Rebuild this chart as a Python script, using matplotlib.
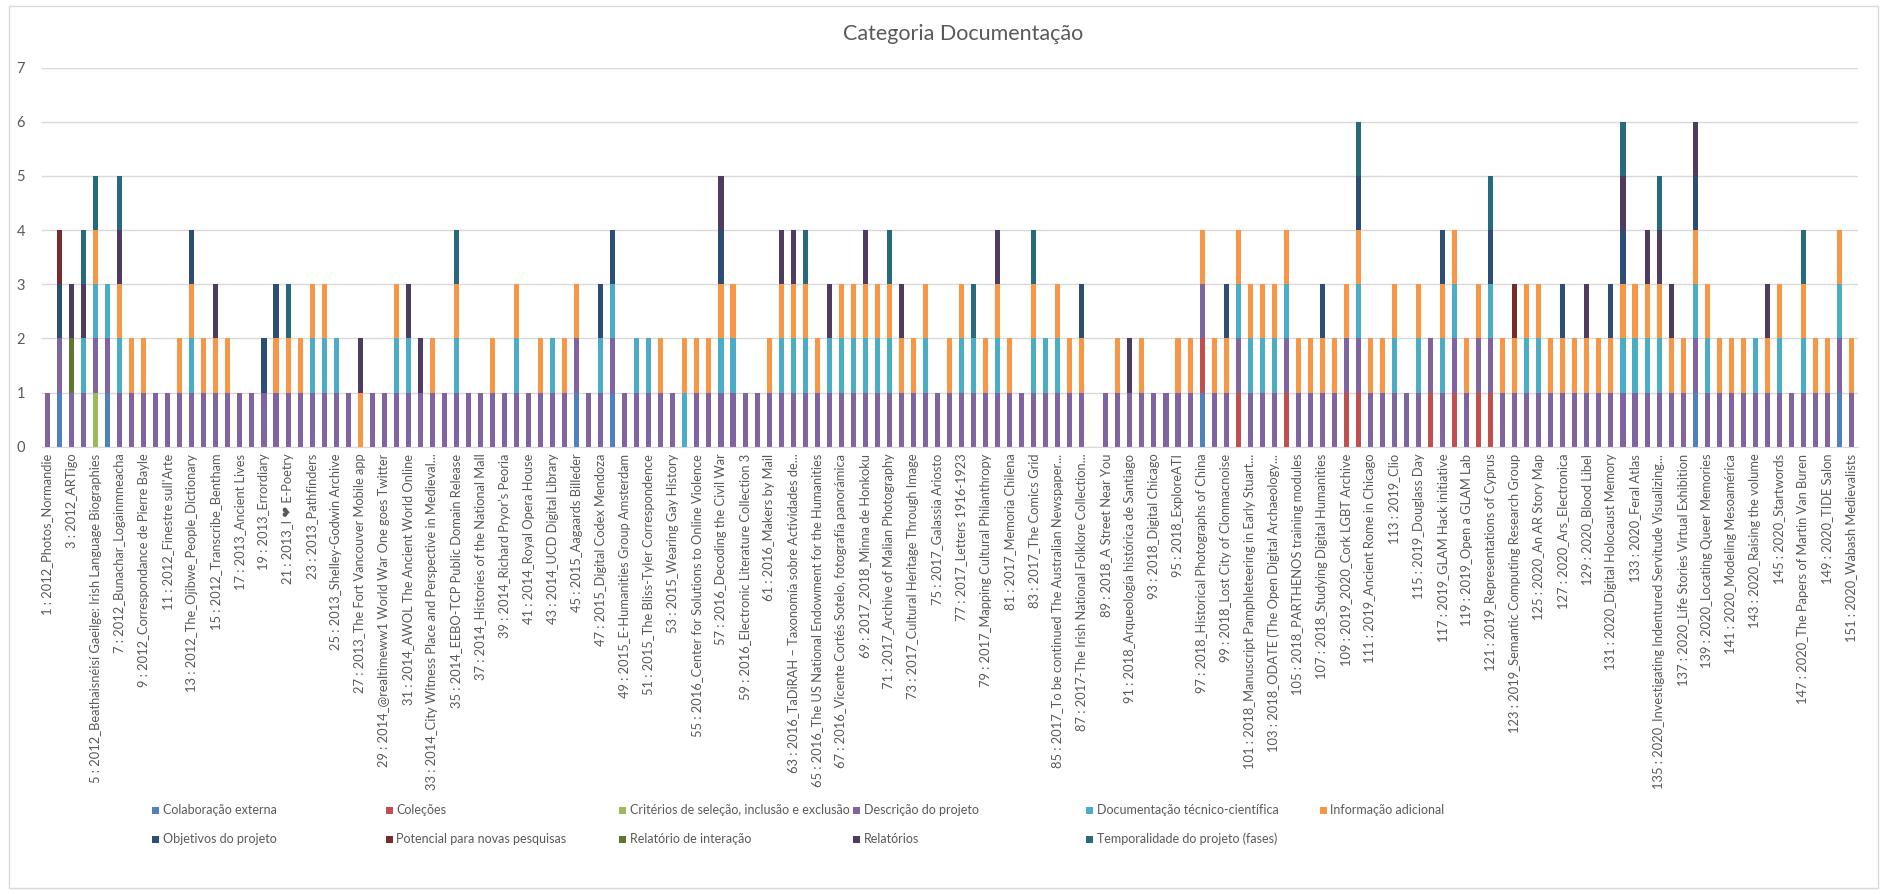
import matplotlib.pyplot as plt
from matplotlib.patches import Rectangle

# Projetos (eixo x): 151 projetos, só os ímpares recebem rótulo
n_projetos = 151

rotulos_impares = [
    "1 : 2012_Photos_Normandie",
    "3 : 2012_ARTigo",
    "5 : 2012_Beathaisnéisí Gaeilge: Irish Language Biographies",
    "7 : 2012_Bunachar_Logainmneacha",
    "9 : 2012_Correspondance de Pierre Bayle",
    "11 : 2012_Finestre sull'Arte",
    "13 : 2012_The_Ojibwe_People_Dictionary",
    "15 : 2012_Transcribe_Bentham",
    "17 : 2013_Ancient Lives",
    "19 : 2013_Errordiary",
    "21 : 2013_I ❤ E-Poetry",
    "23 : 2013_Pathfinders",
    "25 : 2013_Shelley-Godwin Archive",
    "27 : 2013_The Fort Vancouver Mobile app",
    "29 : 2014_@realtimeww1 World War One goes Twitter",
    "31 : 2014_AWOL The Ancient World Online",
    "33 : 2014_City Witness Place and Perspective in Medieval...",
    "35 : 2014_EEBO-TCP Public Domain Release",
    "37 : 2014_Histories of the National Mall",
    "39 : 2014_Richard Pryor’s Peoria",
    "41 : 2014_Royal Opera House",
    "43 : 2014_UCD Digital Library",
    "45 : 2015_Aagaards Billeder",
    "47 : 2015_Digital Codex Mendoza",
    "49 : 2015_E-Humanities Group Amsterdam",
    "51 : 2015_The Bliss-Tyler Correspondence",
    "53 : 2015_Wearing Gay History",
    "55 : 2016_Center for Solutions to Online Violence",
    "57 : 2016_Decoding the Civil War",
    "59 : 2016_Electronic Literature Collection 3",
    "61 : 2016_Makers by Mail",
    "63 : 2016_TaDiRAH – Taxonomía sobre Actividades de...",
    "65 : 2016_The US National Endowment for the Humanities",
    "67 : 2016_Vicente Cortés Sotelo, fotografía panorámica",
    "69 : 2017_2018_Minna de Honkoku",
    "71 : 2017_Archive of Malian Photography",
    "73 : 2017_Cultural Heritage Through Image",
    "75 : 2017_Galassia Ariosto",
    "77 : 2017_Letters 1916-1923",
    "79 : 2017_Mapping Cultural Philanthropy",
    "81 : 2017_Memoria Chilena",
    "83 : 2017_The Comics Grid",
    "85 : 2017_To be continued The Australian Newspaper...",
    "87 : 2017-The Irish National Folklore Collection...",
    "89 : 2018_A Street Near You",
    "91 : 2018_Arqueología histórica de Santiago",
    "93 : 2018_Digital Chicago",
    "95 : 2018_ExploreATI",
    "97 : 2018_Historical Photographs of China",
    "99 : 2018_Lost City of Clonmacnoise",
    "101 : 2018_Manuscript Pamphleteering in Early Stuart...",
    "103 : 2018_ODATE (The Open Digital Archaeology...",
    "105 : 2018_PARTHENOS training modules",
    "107 : 2018_Studying Digital Humanities",
    "109 : 2019_2020_Cork LGBT Archive",
    "111 : 2019_Ancient Rome in Chicago",
    "113 : 2019_Clio",
    "115 : 2019_Douglass Day",
    "117 : 2019_GLAM Hack initiative",
    "119 : 2019_Open a GLAM Lab",
    "121 : 2019_Representations of Cyprus",
    "123 : 2019_Semantic Computing Research Group",
    "125 : 2020_An AR Story Map",
    "127 : 2020_Ars_Electronica",
    "129 : 2020_Blood Libel",
    "131 : 2020_Digital Holocaust Memory",
    "133 : 2020_Feral Atlas",
    "135 : 2020_Investigating Indentured Servitude Visualizing...",
    "137 : 2020_Life Stories Virtual Exhibition",
    "139 : 2020_Locating Queer Memories",
    "141 : 2020_Modeling Mesoamérica",
    "143 : 2020_Raising the volume",
    "145 : 2020_Startwords",
    "147 : 2020_The Papers of Martin Van Buren",
    "149 : 2020_TIDE Salon",
    "151 : 2020_Wabash Medievalists",
]

# Cada categoria conta 1 nos projetos listados (número do projeto)
colaboracao_externa = [2, 6, 45, 48, 97, 138, 150]
colecoes = [97, 100, 104, 109, 110, 116, 118, 120, 121]
criterios = [5]
# descrição do projeto aparece em todos, menos nestes
sem_descricao = [27, 54, 88]
documentacao = [4, 5, 6, 7, 13, 23, 24, 25, 30, 31, 35, 40, 43, 47, 48, 50, 51,
                54, 57, 58, 62, 63, 64, 66, 67, 68, 69, 70, 71, 74, 77, 78, 80,
                83, 84, 85, 100, 101, 102, 103, 104, 110, 113, 115, 117, 118,
                121, 124, 125, 132, 133, 134, 135, 138, 139, 143, 145, 147, 150]
informacao = [5, 7, 8, 9, 12, 13, 14, 15, 16, 20, 21, 22, 23, 24, 27, 30, 33, 35,
              38, 40, 42, 44, 45, 52, 54, 55, 56, 57, 58, 61, 62, 63, 64, 65,
              67, 68, 69, 70, 71, 72, 73, 74, 76, 77, 79, 80, 81, 83, 85, 86,
              87, 90, 92, 95, 96, 97, 98, 99, 100, 101, 102, 103, 104, 105, 106,
              107, 108, 109, 110, 111, 112, 113, 115, 117, 118, 119, 120, 122,
              123, 124, 125, 126, 127, 128, 129, 130, 131, 132, 133, 134, 135,
              136, 137, 138, 139, 140, 141, 142, 144, 145, 147, 148, 149, 150, 151]
objetivos = [2, 13, 19, 20, 47, 48, 57, 87, 99, 107, 110, 117, 121, 127, 131, 132, 138]
potencial = [2, 123]
relatorio_interacao = [3]
relatorios = [3, 4, 7, 15, 27, 31, 32, 57, 62, 63, 66, 69, 72, 80, 91, 129, 132,
              134, 135, 136, 138, 144]
temporalidade = [4, 5, 7, 21, 35, 64, 71, 78, 83, 110, 121, 132, 135, 147]

projetos = list(range(1, n_projetos + 1))
descricao = [p for p in projetos if p not in sem_descricao]

series = [
    ("Colaboração externa", colaboracao_externa, "#4F81BD"),
    ("Coleções", colecoes, "#C0504D"),
    ("Critérios de seleção, inclusão e exclusão", criterios, "#9BBB59"),
    ("Descrição do projeto", descricao, "#8064A2"),
    ("Documentação técnico-científica", documentacao, "#4BACC6"),
    ("Informação adicional", informacao, "#F79646"),
    ("Objetivos do projeto", objetivos, "#2C4D75"),
    ("Potencial para novas pesquisas", potencial, "#772C2A"),
    ("Relatório de interação", relatorio_interacao, "#5F7530"),
    ("Relatórios", relatorios, "#4D3B62"),
    ("Temporalidade do projeto (fases)", temporalidade, "#276A7C"),
]

cinza = "#595959"
plt.rcParams["font.family"] = ["Lato", "DejaVu Sans"]

W, H = 1887, 894
fig = plt.figure(figsize=(W / 100, H / 100), dpi=100)
ax = fig.add_axes([41.5 / W, 1 - 446.7 / H, (1857.5 - 41.5) / W, (446.7 - 67.7) / H])

# barras empilhadas
base = [0] * n_projetos
for nome, membros, cor in series:
    valores = [1 if p in membros else 0 for p in projetos]
    ax.bar(projetos, valores, bottom=base, width=0.42, color=cor, label=nome)
    base = [b + v for b, v in zip(base, valores)]

ax.set_xlim(0.5, n_projetos + 0.5)
ax.set_ylim(0, 7)
ax.set_yticks(range(0, 8))
ax.grid(axis="y", color="#D9D9D9", linewidth=1)
ax.set_axisbelow(True)
for lado in ["top", "right", "left"]:
    ax.spines[lado].set_visible(False)
ax.spines["bottom"].set_color("#D9D9D9")

ax.set_xticks(projetos[::2])
ax.set_xticklabels(rotulos_impares, rotation=90, fontsize=9.3, color=cinza)
ax.tick_params(axis="x", length=0, pad=5)
ax.tick_params(axis="y", length=0, pad=12, labelsize=10.5, labelcolor=cinza)

fig.text(963 / W, 1 - 34 / H, "Categoria Documentação", ha="center", va="center",
         fontsize=15.5, color=cinza)

# legenda em 6 colunas, preenchida por linha
for i, (nome, _, cor) in enumerate(series):
    col, lin = i % 6, i // 6
    x = (152 + col * 233.5) / W
    y = 1 - (810 + lin * 29) / H
    fig.patches.append(Rectangle((x, y - 3.5 / H), 7 / W, 7 / H, transform=fig.transFigure,
                                 facecolor=cor, edgecolor="none"))
    fig.text(x + 11 / W, y, nome, ha="left", va="center", fontsize=9, color=cinza)

# moldura do gráfico
fig.patches.append(Rectangle((9 / W, 6 / H), (W - 18) / W, (H - 12) / H,
                             transform=fig.transFigure, facecolor="none",
                             edgecolor="#D9D9D9", linewidth=1))

fig.savefig("out.png", dpi=100)
